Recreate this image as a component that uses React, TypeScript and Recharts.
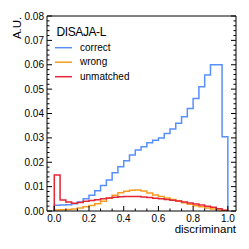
import React from 'react';
import { LineChart, Line, XAxis, YAxis } from 'recharts';

// 30 bins over [0, 1]
const binEdges = Array.from({ length: 31 }, (_, i) => i / 30);

const correct = [
  0.0024, 0.0025, 0.0026, 0.003, 0.0037, 0.005, 0.0065, 0.0083, 0.0105, 0.0127,
  0.0157, 0.0182, 0.0206, 0.023, 0.025, 0.0264, 0.028, 0.029, 0.030, 0.0318,
  0.0336, 0.036, 0.0387, 0.0421, 0.0462, 0.051, 0.0558, 0.06, 0.06, 0.0305,
];
const wrong = [
  0.0004, 0.0005, 0.0006, 0.0008, 0.0012, 0.0017, 0.0023, 0.003, 0.004, 0.0052,
  0.0065, 0.0075, 0.0081, 0.0085, 0.0086, 0.0082, 0.0074, 0.0066, 0.0059, 0.0053,
  0.0047, 0.0041, 0.0034, 0.0028, 0.0022, 0.0017, 0.0012, 0.0008, 0.0004, 0.0002,
];
const unmatched = [
  0.0148, 0.0045, 0.0037, 0.0032, 0.0035, 0.004, 0.0043, 0.0046, 0.005, 0.0053,
  0.0056, 0.0058, 0.006, 0.006, 0.0059, 0.0057, 0.0055, 0.0052, 0.005, 0.0047,
  0.0044, 0.0041, 0.0037, 0.0033, 0.0029, 0.0025, 0.002, 0.0015, 0.0009, 0.0003,
];

const series = [
  { name: 'correct', values: correct, color: '#5790fc' },
  { name: 'wrong', values: wrong, color: '#f89c20' },
  { name: 'unmatched', values: unmatched, color: '#e42536' },
];

const xTicks = [0, 0.2, 0.4, 0.6, 0.8, 1.0];
const yTicks = [0, 0.01, 0.02, 0.03, 0.04, 0.05, 0.06, 0.07, 0.08];
const xAllTicks = Array.from({ length: 16 }, (_, i) => i * (0.2 / 3));
const yAllTicks = Array.from({ length: 41 }, (_, i) => i * 0.002);

const xDomain: [number, number] = [-0.042, 1.047];
const yDomain: [number, number] = [0, 0.08];

const FONT = '"Liberation Sans", Arial, Helvetica, sans-serif';
const MAJOR = 5;
const MINOR = 2.5;

const isMajor = (v: number, majors: number[]) => majors.some((m) => Math.abs(m - v) < 1e-6);

// histogram outline: start and end on zero
const toSteps = (vals: number[]) => [
  { x: 0, v: 0 },
  ...vals.map((v, i) => ({ x: binEdges[i], v })),
  { x: 1, v: vals[vals.length - 1] },
  { x: 1, v: 0 },
];

// inward tick marks drawn by hand, labels only on major ticks
const makeTick = (side: 'bottom' | 'top' | 'left' | 'right') => (props: any) => {
  const { x, y, payload } = props;
  const v = payload.value;
  const major = isMajor(v, side === 'bottom' || side === 'top' ? xTicks : yTicks);
  const len = major ? MAJOR : MINOR;
  if (side === 'bottom') {
    return (
      <g>
        <line x1={x} x2={x} y1={y} y2={y - len} stroke="#000" />
        {major && (
          <text x={x} y={y + 11} textAnchor="middle" fontSize={10} fontFamily={FONT} fill="#000">
            {v.toFixed(1)}
          </text>
        )}
      </g>
    );
  }
  if (side === 'top') return <line x1={x} x2={x} y1={y} y2={y + len} stroke="#000" />;
  if (side === 'left') {
    return (
      <g>
        <line x1={x} x2={x + len} y1={y} y2={y} stroke="#000" />
        {major && (
          <text x={x - 3} y={y + 3.6} textAnchor="end" fontSize={10} fontFamily={FONT} fill="#000">
            {v.toFixed(2)}
          </text>
        )}
      </g>
    );
  }
  return <line x1={x} x2={x - len} y1={y} y2={y} stroke="#000" />;
};

export default function App() {
  return (
    <div style={{ position: 'absolute', left: 0, top: 0, width: 249, height: 249, background: '#fff' }}>
      <LineChart width={249} height={249} margin={{ top: 15, right: 12, bottom: 8, left: 7 }}>
        <XAxis
          xAxisId="x"
          dataKey="x"
          type="number"
          domain={xDomain}
          allowDataOverflow
          ticks={xAllTicks}
          interval={0}
          height={30}
          tickSize={0}
          tickMargin={0}
          tickLine={false}
          tick={makeTick('bottom')}
          stroke="#000"
        />
        <XAxis
          xAxisId="xt"
          orientation="top"
          type="number"
          domain={xDomain}
          allowDataOverflow
          ticks={xAllTicks}
          interval={0}
          height={1}
          tickSize={0}
          tickMargin={0}
          tickLine={false}
          tick={makeTick('top')}
          stroke="#000"
        />
        <YAxis
          yAxisId="y"
          type="number"
          domain={yDomain}
          allowDataOverflow
          ticks={yAllTicks}
          interval={0}
          width={40}
          tickSize={0}
          tickMargin={0}
          tickLine={false}
          tick={makeTick('left')}
          stroke="#000"
        />
        <YAxis
          yAxisId="yr"
          orientation="right"
          type="number"
          domain={yDomain}
          allowDataOverflow
          ticks={yAllTicks}
          interval={0}
          width={1}
          tickSize={0}
          tickMargin={0}
          tickLine={false}
          tick={makeTick('right')}
          stroke="#000"
        />
        {series.map((s) => (
          <Line
            key={s.name}
            xAxisId="x"
            yAxisId="y"
            data={toSteps(s.values)}
            dataKey="v"
            type="stepAfter"
            stroke={s.color}
            strokeWidth={1.5}
            dot={false}
            activeDot={false}
            isAnimationActive={false}
          />
        ))}
      </LineChart>
      <svg width={249} height={249} style={{ position: 'absolute', left: 0, top: 0, pointerEvents: 'none' }}>
        <text x={236} y={232.5} textAnchor="end" fontSize={11.5} fontFamily={FONT} fill="#000">
          discriminant
        </text>
        <text transform="translate(20.5,16.7) rotate(-90)" textAnchor="end" fontSize={11.5} fontFamily={FONT} fill="#000">
          A.U.
        </text>
        <text x={56.5} y={36} fontSize={12} fontFamily={FONT} fill="#000" letterSpacing={-0.4}>
          DISAJA-L
        </text>
        {series.map((s, i) => (
          <g key={s.name}>
            <line x1={55} x2={72} y1={47.7 + i * 14.5} y2={47.7 + i * 14.5} stroke={s.color} strokeWidth={1.5} />
            <text x={80} y={50.9 + i * 14.5} fontSize={10} fontFamily={FONT} fill="#000">
              {s.name}
            </text>
          </g>
        ))}
      </svg>
    </div>
  );
}
